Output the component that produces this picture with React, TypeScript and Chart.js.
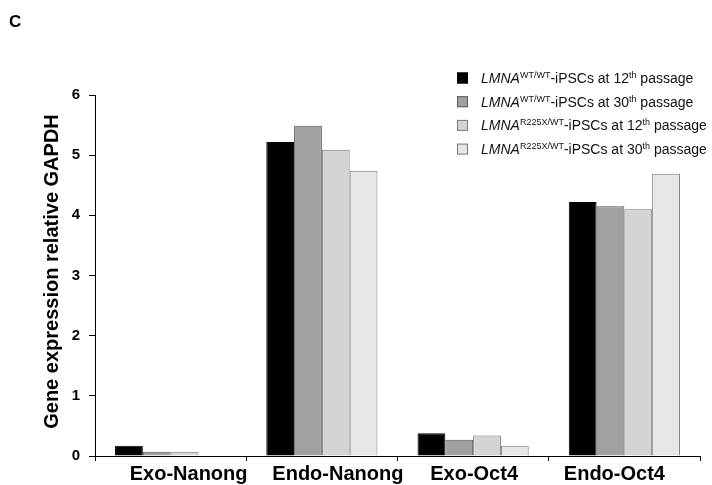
import React, { useEffect, useRef } from "react";
import { Chart, registerables } from "chart.js";

Chart.register(...registerables);

const categories = ["Exo-Nanong", "Endo-Nanong", "Exo-Oct4", "Endo-Oct4"];
const wt12 = [0.17, 5.22, 0.38, 4.22];
const wt30 = [0.07, 5.49, 0.27, 4.15];
const r225x12 = [0.07, 5.09, 0.34, 4.1];
const r225x30 = [0, 4.74, 0.17, 4.69];
const yTicks = [0, 1, 2, 3, 4, 5, 6];

const seriesGenotype = ["WT/WT", "WT/WT", "R225X/WT", "R225X/WT"];
const seriesPassage = ["12", "30", "12", "30"];
const panelLetter = "C";
const yTitle = "Gene expression relative GAPDH";

const FILLS = ["#000000", "#a0a0a0", "#d4d4d4", "#e6e6e6"];
const BORDERS = ["#000000", "#5a5a5a", "#7a7a7a", "#7a7a7a"];
const LABEL_NUDGE = [18, 16, 1, -10];
const FONT = '"Liberation Sans", Arial, sans-serif';

const overlay = {
  id: "overlay",
  afterDraw(chart: any) {
    const ctx = chart.ctx;
    const xs = chart.scales.x;
    const ca = chart.chartArea;
    ctx.save();
    ctx.fillStyle = "#000";
    // panel letter
    ctx.font = `bold 17px ${FONT}`;
    ctx.textAlign = "left";
    ctx.textBaseline = "alphabetic";
    ctx.fillText(panelLetter, 9, 27);
    // y title
    ctx.save();
    ctx.translate(52, (ca.top + ca.bottom) / 2 - 4);
    ctx.rotate(-Math.PI / 2);
    ctx.font = `bold 20px ${FONT}`;
    ctx.textAlign = "center";
    ctx.textBaseline = "middle";
    ctx.fillText(yTitle, 0, 0);
    ctx.restore();
    // x labels
    ctx.font = `bold 20px ${FONT}`;
    ctx.textAlign = "center";
    ctx.textBaseline = "alphabetic";
    categories.forEach((c, i) => {
      ctx.fillText(c, xs.getPixelForValue(i) + LABEL_NUDGE[i], 480);
    });
    // legend
    const bx = 457;
    const tx = 481;
    for (let i = 0; i < 4; i++) {
      const cy = 78 + i * 23.7;
      ctx.fillStyle = FILLS[i];
      ctx.fillRect(bx, cy - 5.5, 11, 11);
      ctx.strokeStyle = BORDERS[i];
      ctx.lineWidth = 1;
      ctx.strokeRect(bx + 0.5, cy - 5, 10, 10);
      ctx.fillStyle = "#111";
      const base = cy + 5;
      let x = tx;
      ctx.textAlign = "left";
      ctx.font = `italic 14px ${FONT}`;
      ctx.fillText("LMNA", x, base);
      x += ctx.measureText("LMNA").width;
      ctx.font = `9px ${FONT}`;
      ctx.fillText(seriesGenotype[i], x, base - 5);
      x += ctx.measureText(seriesGenotype[i]).width;
      ctx.font = `14px ${FONT}`;
      const mid = `-iPSCs at ${seriesPassage[i]}`;
      ctx.fillText(mid, x, base);
      x += ctx.measureText(mid).width;
      ctx.font = `9px ${FONT}`;
      ctx.fillText("th", x, base - 5);
      x += ctx.measureText("th").width;
      ctx.font = `14px ${FONT}`;
      ctx.fillText(" passage", x, base);
    }
    ctx.restore();
  },
};

export default function App() {
  const ref = useRef<HTMLCanvasElement | null>(null);
  useEffect(() => {
    if (!ref.current) return;
    const series = [wt12, wt30, r225x12, r225x30];
    const chart = new Chart(ref.current, {
      type: "bar",
      data: {
        labels: categories,
        datasets: series.map((d, i) => ({
          label: `LMNA ${seriesGenotype[i]} ${seriesPassage[i]}`,
          data: d,
          backgroundColor: FILLS[i],
          borderColor: BORDERS[i],
          borderWidth: 1,
          barPercentage: 1,
          categoryPercentage: 0.735,
        })),
      },
      options: {
        responsive: false,
        animation: false,
        layout: { padding: { left: 0, top: 95, right: 12, bottom: 0 } },
        plugins: { legend: { display: false }, tooltip: { enabled: false } },
        scales: {
          x: {
            afterFit: (s: any) => {
              s.height = 29;
            },
            grid: {
              display: true,
              offset: true,
              drawOnChartArea: false,
              drawTicks: true,
              tickLength: 5,
              color: "#000",
            },
            border: { display: true, color: "#000", width: 1 },
            ticks: { display: false },
          },
          y: {
            min: 0,
            max: 6,
            afterFit: (s: any) => {
              s.width = 95;
            },
            afterBuildTicks: (s: any) => {
              s.ticks = yTicks.map((v) => ({ value: v }));
            },
            grid: {
              display: true,
              drawOnChartArea: false,
              drawTicks: true,
              tickLength: 6,
              color: "#000",
            },
            border: { display: true, color: "#000", width: 1 },
            ticks: {
              color: "#000",
              padding: 9,
              font: { family: FONT, size: 15, weight: "bold" },
            },
          },
        },
      },
      plugins: [overlay],
    });
    return () => chart.destroy();
  }, []);
  return (
    <div style={{ position: "absolute", left: 0, top: 0, width: 712, height: 485, background: "#fff" }}>
      <canvas ref={ref} width={712} height={485} />
    </div>
  );
}
